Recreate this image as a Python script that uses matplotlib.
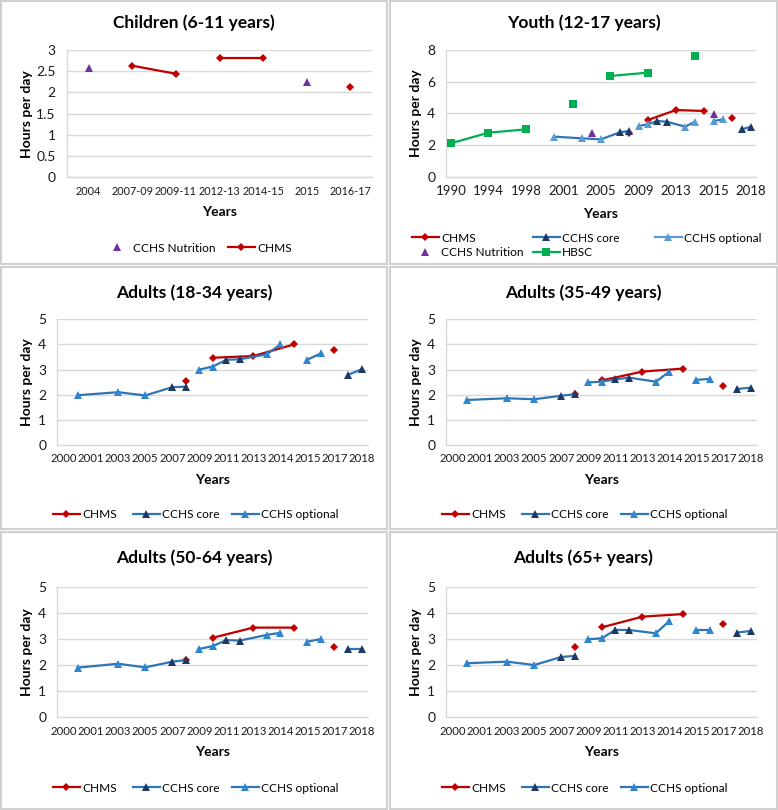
import numpy as np
import matplotlib
matplotlib.use("Agg")
import matplotlib.pyplot as plt
from matplotlib.lines import Line2D
from matplotlib.patches import Rectangle
from matplotlib.ticker import FuncFormatter

plt.rcParams['font.family'] = ['Lato', 'DejaVu Sans']

W, H = 778, 810

RED = '#C00000'
BLUE = '#2E75B6'
NAVY = '#1F3864'
OPT = '#2E86D1'
OPT_Y = '#5B9BD5'
PURPLE = '#7030A0'
GREEN = '#00B050'
GRID = '#D9D9D9'

# ---- Children (6-11 years): 7 categories
CHILD_CATS = ['2004', '2007-09', '2009-11', '2012-13', '2014-15', '2015', '2016-17']
CHILD_NUTR_X = [0, 5]
CHILD_NUTR_Y = [2.58, 2.25]
CHILD_CHMS_X = [1, 2, 3, 4, 6]
CHILD_CHMS_Y = [2.63, 2.44, 2.82, 2.82, 2.13]
CHILD_CHMS_RUNS = [(1, 2), (3, 4)]

# ---- Youth (12-17 years): 33 categories, every 4th labelled
YOUTH_TICKS = ['1990', '1994', '1998', '2001', '2005', '2009', '2013', '2015', '2018']
YOUTH_HBSC_X = [0, 4, 8, 13, 17, 21, 26]
YOUTH_HBSC_Y = [2.11, 2.78, 2.99, 4.57, 6.36, 6.57, 7.64]
YOUTH_HBSC_RUNS = [(0, 8), (17, 21)]
YOUTH_CHMS_X = [19, 21, 24, 27, 30]
YOUTH_CHMS_Y = [2.78, 3.58, 4.21, 4.15, 3.69]
YOUTH_CHMS_RUNS = [(21, 27)]
YOUTH_CORE_X = [18, 19, 22, 23, 31, 32]
YOUTH_CORE_Y = [2.80, 2.89, 3.52, 3.47, 2.99, 3.16]
YOUTH_OPT_X = [11, 14, 16, 20, 21, 25, 26, 28, 29]
YOUTH_OPT_Y = [2.53, 2.42, 2.36, 3.20, 3.31, 3.16, 3.47, 3.52, 3.62]
YOUTH_CCHS_RUNS = [(11, 19), (20, 26), (28, 29), (31, 32)]
YOUTH_NUTR_X = [15, 28]
YOUTH_NUTR_Y = [2.74, 3.94]

# ---- Adults: 23 categories, every 2nd labelled
ADULT_TICKS = ['2000', '2001', '2003', '2005', '2007', '2009', '2011',
               '2013', '2014', '2015', '2017', '2018']
ADULT_CHMS_X = [9, 11, 14, 17, 20]
ADULT_CORE_X = [8, 9, 12, 13, 21, 22]
ADULT_OPT_X = [1, 4, 6, 10, 11, 15, 16, 18, 19]
ADULT_CHMS_RUNS = [(11, 17)]
ADULT_CCHS_RUNS = [(1, 9), (10, 16), (18, 19), (21, 22)]

A18_CHMS = [2.53, 3.47, 3.54, 4.00, 3.76]
A18_CORE = [2.30, 2.32, 3.39, 3.41, 2.79, 3.01]
A18_OPT = [1.98, 2.10, 1.97, 3.00, 3.12, 3.61, 4.00, 3.40, 3.64]

A35_CHMS = [2.03, 2.57, 2.92, 3.04, 2.36]
A35_CORE = [1.96, 2.02, 2.61, 2.68, 2.23, 2.28]
A35_OPT = [1.79, 1.86, 1.82, 2.49, 2.52, 2.52, 2.92, 2.59, 2.63]

A50_CHMS = [2.22, 3.06, 3.45, 3.45, 2.72]
A50_CORE = [2.14, 2.20, 2.97, 2.95, 2.63, 2.63]
A50_OPT = [1.91, 2.06, 1.92, 2.63, 2.74, 3.17, 3.25, 2.91, 3.01]

A65_CHMS = [2.69, 3.46, 3.87, 3.97, 3.58]
A65_CORE = [2.32, 2.36, 3.36, 3.36, 3.26, 3.32]
A65_OPT = [2.08, 2.14, 2.01, 3.00, 3.04, 3.23, 3.71, 3.36, 3.36]

LW = 1.6
TICK_FS = 8.5
LAB_FS = 10
LEG_FS = 8.6
TITLE_FS = 12.5


def draw_runs(ax, xs, ys, runs, color, z):
    xs = np.asarray(xs, float)
    ys = np.asarray(ys, float)
    for lo, hi in runs:
        m = (xs >= lo) & (xs <= hi)
        o = np.argsort(xs[m])
        ax.plot(xs[m][o], ys[m][o], color=color, lw=LW, zorder=z)


def draw_marks(ax, xs, ys, marker, color, ms, z):
    ax.plot(xs, ys, ls='none', marker=marker, color=color, ms=ms,
            markeredgewidth=0, zorder=z)


def px_axes(l, r, top, bottom):
    return fig.add_axes([l / W, 1 - bottom / H, (r - l) / W, (bottom - top) / H])


def setup(ax, ncat, ymax, ystep, tickpos, ticklabels, xfs, ylab_x, xlab_y):
    ax.set_xlim(-0.5, ncat - 0.5)
    ax.set_ylim(0, ymax)
    ax.set_yticks(np.arange(0, ymax + ystep / 2, ystep))
    ax.yaxis.set_major_formatter(FuncFormatter(lambda v, p: '%g' % v))
    ax.set_xticks(tickpos)
    ax.set_xticklabels(ticklabels)
    ax.yaxis.grid(True, color=GRID, lw=1)
    ax.set_axisbelow(True)
    for s in ['top', 'right']:
        ax.spines[s].set_visible(False)
    for s in ['left', 'bottom']:
        ax.spines[s].set_color(GRID)
        ax.spines[s].set_linewidth(1)
    ax.tick_params(axis='x', length=0, pad=6, labelsize=xfs, colors='#1a1a1a')
    ax.tick_params(axis='y', length=0, pad=8, labelsize=TICK_FS + 1.5, colors='#1a1a1a')
    ax.set_ylabel('Hours per day', fontsize=LAB_FS, fontweight='bold')
    ax.set_xlabel('Years', fontsize=LAB_FS, fontweight='bold')
    ax.yaxis.set_label_coords(ylab_x, 0.5)
    ax.yaxis.label.set_va('center')
    ax.xaxis.set_label_coords(0.5, xlab_y)
    ax.xaxis.label.set_va('center')


def legend_entry(handle, label, x, y, hl=2.25):
    fig.legend(handles=[handle], labels=[label], loc='center left',
               bbox_to_anchor=(x / W, 1 - y / H), frameon=False, borderpad=0,
               borderaxespad=0, handlelength=hl, handletextpad=0.2,
               fontsize=LEG_FS)


h_chms = Line2D([], [], color=RED, lw=LW, marker='D', ms=4.5, mew=0)
h_core = Line2D([], [], color=BLUE, lw=LW, marker='^', ms=6, mfc=NAVY, mew=0)
h_opt = Line2D([], [], color=BLUE, lw=LW, marker='^', ms=6, mfc=OPT, mew=0)
h_opt_y = Line2D([], [], color=OPT_Y, lw=LW, marker='^', ms=6, mfc=OPT_Y, mew=0)
h_nutr = Line2D([], [], ls='none', marker='^', ms=6, color=PURPLE, mew=0)
h_hbsc = Line2D([], [], color=GREEN, lw=LW, marker='s', ms=6, mew=0)

fig = plt.figure(figsize=(W / 100, H / 100), dpi=100)

# panel frames
for (x0, y0, x1, y1) in [(1, 1, 387, 264), (390, 1, 777, 264),
                         (1, 267, 387, 529), (390, 267, 777, 529),
                         (1, 532, 387, 809), (390, 532, 777, 809)]:
    fig.patches.append(Rectangle((x0 / W, 1 - y1 / H), (x1 - x0) / W, (y1 - y0) / H,
                                 transform=fig.transFigure, fill=False,
                                 edgecolor='#D0D0D0', lw=1.5))

# ---- Children
ax = px_axes(66.7, 372.3, 50, 177.3)
setup(ax, 7, 3, 0.5, range(7), CHILD_CATS, 7.8, -0.13, -0.273)
draw_runs(ax, CHILD_CHMS_X, CHILD_CHMS_Y, CHILD_CHMS_RUNS, RED, 2)
draw_marks(ax, CHILD_CHMS_X, CHILD_CHMS_Y, 'D', RED, 4.5, 3)
draw_marks(ax, CHILD_NUTR_X, CHILD_NUTR_Y, '^', PURPLE, 6, 4)
fig.text(194 / W, 1 - 23 / H, 'Children (6-11 years)', ha='center', va='center',
         fontsize=TITLE_FS, fontweight='bold')
legend_entry(h_nutr, 'CCHS Nutrition', 103.5, 248)
legend_entry(h_chms, 'CHMS', 228, 248)

# ---- Youth
ax = px_axes(446.3, 755.7, 50, 176.7)
setup(ax, 33, 8, 2, range(0, 33, 4), YOUTH_TICKS, TICK_FS + 1, -0.099, -0.297)
draw_runs(ax, YOUTH_CHMS_X, YOUTH_CHMS_Y, YOUTH_CHMS_RUNS, RED, 2)
draw_marks(ax, YOUTH_CHMS_X, YOUTH_CHMS_Y, 'D', RED, 4.5, 2.5)
draw_runs(ax, YOUTH_CORE_X + YOUTH_OPT_X, YOUTH_CORE_Y + YOUTH_OPT_Y,
          YOUTH_CCHS_RUNS, BLUE, 3)
draw_marks(ax, YOUTH_CORE_X, YOUTH_CORE_Y, '^', NAVY, 6, 4)
draw_marks(ax, YOUTH_OPT_X, YOUTH_OPT_Y, '^', OPT_Y, 6, 4)
draw_marks(ax, YOUTH_NUTR_X, YOUTH_NUTR_Y, '^', PURPLE, 6, 5)
draw_runs(ax, YOUTH_HBSC_X, YOUTH_HBSC_Y, YOUTH_HBSC_RUNS, GREEN, 5)
draw_marks(ax, YOUTH_HBSC_X, YOUTH_HBSC_Y, 's', GREEN, 6, 6)
fig.text(583.5 / W, 1 - 23 / H, 'Youth (12-17 years)', ha='center', va='center',
         fontsize=TITLE_FS, fontweight='bold')
legend_entry(h_chms, 'CHMS', 412, 238)
legend_entry(h_core, 'CCHS core', 533, 238)
legend_entry(h_opt_y, 'CCHS optional', 655, 238)
legend_entry(h_nutr, 'CCHS Nutrition', 412, 253)
legend_entry(h_hbsc, 'HBSC', 533, 253)

# ---- Adults
adult_panels = [
    ('Adults (18-34 years)', A18_CHMS, A18_CORE, A18_OPT, 0, 265, 319.3, 445, -0.278, 515),
    ('Adults (35-49 years)', A35_CHMS, A35_CORE, A35_OPT, 389, 265, 319.3, 445, -0.278, 515),
    ('Adults (50-64 years)', A50_CHMS, A50_CORE, A50_OPT, 0, 530, 587.3, 717.3, -0.267, 788),
    ('Adults (65+ years)', A65_CHMS, A65_CORE, A65_OPT, 389, 530, 587.3, 717.3, -0.267, 788),
]
for title, chms, core, opt, ox, oy, top, bot, xlab_y, leg_y in adult_panels:
    ax = px_axes(ox + 57.3, ox + 368.3, top, bot)
    setup(ax, 23, 5, 1, range(0, 23, 2), ADULT_TICKS, TICK_FS - 0.3, -0.097, xlab_y)
    draw_runs(ax, ADULT_CHMS_X, chms, ADULT_CHMS_RUNS, RED, 2)
    draw_marks(ax, ADULT_CHMS_X, chms, 'D', RED, 4.5, 2.5)
    draw_runs(ax, ADULT_CORE_X + ADULT_OPT_X, core + opt, ADULT_CCHS_RUNS, BLUE, 3)
    draw_marks(ax, ADULT_CORE_X, core, '^', NAVY, 6, 4)
    draw_marks(ax, ADULT_OPT_X, opt, '^', OPT, 6, 4)
    fig.text((ox + 194.5) / W, 1 - (oy + 28) / H, title, ha='center', va='center',
             fontsize=TITLE_FS, fontweight='bold')
    legend_entry(h_chms, 'CHMS', ox + 53, leg_y)
    legend_entry(h_core, 'CCHS core', ox + 133, leg_y)
    legend_entry(h_opt, 'CCHS optional', ox + 232, leg_y)

fig.savefig('out.png', dpi=100)
